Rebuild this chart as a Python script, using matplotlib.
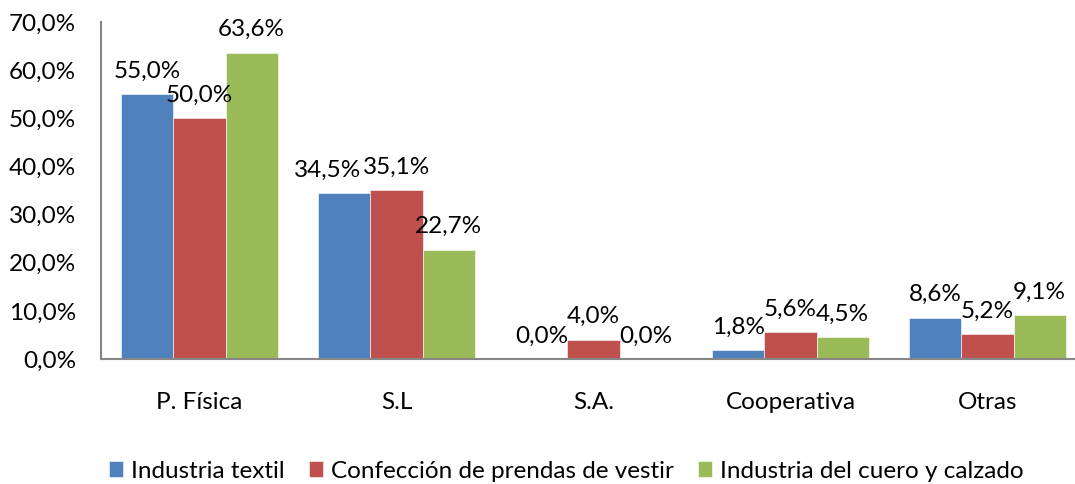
import numpy as np
import matplotlib.pyplot as plt
from matplotlib.ticker import FuncFormatter

plt.rcParams['font.family'] = ['Lato', 'DejaVu Sans']

categories = ['P. Física', 'S.L', 'S.A.', 'Cooperativa', 'Otras']
series = ['Industria textil', 'Confección de prendas de vestir', 'Industria del cuero y calzado']
textil = [55.0, 34.5, 0.0, 1.8, 8.6]
confeccion = [50.0, 35.1, 4.0, 5.6, 5.2]
cuero = [63.6, 22.7, 0.0, 4.5, 9.1]
colors = ['#4F81BD', '#C0504D', '#9BBB59']

# labels nudged sideways (series index, category index) -> points
nudge = {(0, 1): -12}

W, H = 1075, 484
fig = plt.figure(figsize=(W / 100, H / 100), dpi=100)
ax = fig.add_axes([101 / W, (H - 359) / H, 985 / W, 337 / H])

x = np.arange(len(categories))
bw = 0.264
fs = 17.5

for i, (vals, name, c) in enumerate(zip([textil, confeccion, cuero], series, colors)):
    pos = x + (i - 1) * bw
    ax.bar(pos, vals, bw, color=c, label=name, edgecolor='white', linewidth=0.4)
    for j, (p, v) in enumerate(zip(pos, vals)):
        ax.annotate('{:.1f}%'.format(v).replace('.', ','), (p, v),
                    xytext=(nudge.get((i, j), 0), 9),
                    textcoords='offset points', ha='center', va='bottom', fontsize=fs,
                    annotation_clip=False)

ax.set_xlim(-0.5, 4.5)
ax.set_ylim(0, 70)
ax.set_yticks(np.arange(0, 71, 10))
ax.yaxis.set_major_formatter(FuncFormatter(lambda v, _: '{:.1f}%'.format(v).replace('.', ',')))
ax.set_xticks(x)
ax.set_xticklabels(categories)
ax.tick_params(axis='y', length=0, pad=18, labelsize=fs)
ax.tick_params(axis='x', length=0, pad=24, labelsize=fs)

for s in ['top', 'right']:
    ax.spines[s].set_visible(False)
for s in ['left', 'bottom']:
    ax.spines[s].set_color('#868686')
    ax.spines[s].set_linewidth(1.5)

fig.legend(loc='center', bbox_to_anchor=(566 / W, 1 - 471 / H), ncol=3, frameon=False,
           fontsize=fs, handlelength=0.6, handleheight=0.6, handletextpad=0.3,
           columnspacing=1.0)

fig.savefig('out.png', dpi=100)
